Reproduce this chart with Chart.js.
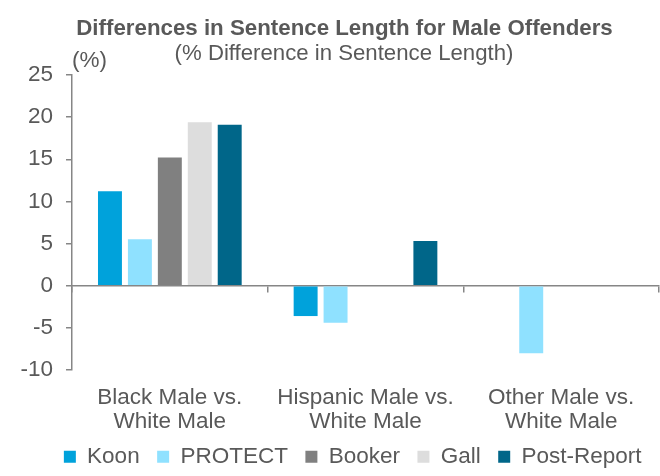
<!DOCTYPE html>
<html>
<head>
<meta charset="utf-8">
<script src="https://cdn.jsdelivr.net/npm/chart.js@4.4.1/dist/chart.umd.min.js"></script>
<style>
html,body{margin:0;padding:0;background:#fff;}
#wrap{width:660px;height:476px;position:relative;}
</style>
</head>
<body>
<div id="wrap"><canvas id="c" width="660" height="476"></canvas></div>
<script>
const categories = [['Black Male vs.', 'White Male'], ['Hispanic Male vs.', 'White Male'], ['Other Male vs.', 'White Male']];
const seriesNames = ['Koon', 'PROTECT', 'Booker', 'Gall', 'Post-Report'];
const koon = [11.2, -3.6, null];
const protect = [5.5, -4.4, -8.0];
const booker = [15.2, null, null];
const gall = [19.4, null, null];
const postReport = [19.1, 5.3, null];
const yMin = -10, yMax = 25, yStep = 5;
const titleText = 'Differences in Sentence Length for Male Offenders';
const subtitleText = '(% Difference in Sentence Length)';
const unitText = '(%)';

const colors = ['#00A2DB', '#8FE1FF', '#808080', '#DDDDDD', '#006689'];
const values = [koon, protect, booker, gall, postReport];
const FONT = "'Liberation Sans', Arial, sans-serif";
const TXT = '#595959';
const AX = '#868686';
const FS = 22.5;

const titlePlugin = {
  id: 'titles',
  afterDraw(chart) {
    const ctx = chart.ctx;
    ctx.save();
    ctx.fillStyle = TXT;
    ctx.textAlign = 'center';
    ctx.textBaseline = 'alphabetic';
    ctx.font = 'bold 22.3px ' + FONT;
    ctx.fillText(titleText, 344.5, 35);
    ctx.font = '22.2px ' + FONT;
    ctx.fillText(subtitleText, 344, 60);
    ctx.textAlign = 'left';
    ctx.font = FS + 'px ' + FONT;
    ctx.fillText(unitText, 72, 67);
    ctx.restore();
  }
};

new Chart(document.getElementById('c'), {
  type: 'bar',
  data: {
    labels: categories,
    datasets: seriesNames.map((n, i) => ({
      label: n,
      data: values[i],
      backgroundColor: colors[i],
      borderWidth: 0,
      categoryPercentage: 0.765,
      barPercentage: 0.8
    }))
  },
  options: {
    responsive: false,
    animation: false,
    layout: { padding: { top: 75, right: 1, left: 0, bottom: -2 } },
    plugins: {
      title: { display: false },
      tooltip: { enabled: false },
      legend: {
        position: 'bottom',
        align: 'end',
        labels: {
          boxWidth: 12, boxHeight: 12, padding: 17.5,
          color: TXT,
          font: { family: FONT, size: FS }
        }
      }
    },
    scales: {
      x: {
        type: 'category',
        position: { y: 0 },
        offset: true,
        border: { display: true, color: AX, width: 1.5 },
        grid: { display: true, offset: true, drawOnChartArea: false, drawTicks: true, tickLength: 6, color: AX, lineWidth: 1.5 },
        ticks: { display: false }
      },
      x2: {
        type: 'category',
        position: 'bottom',
        offset: true,
        border: { display: false },
        grid: { display: false, offset: true },
        ticks: { color: TXT, font: { family: FONT, size: FS, lineHeight: 1.07 }, padding: 8, maxRotation: 0, autoSkip: false },
        afterFit(s) { s.height = 58; }
      },
      y: {
        min: yMin, max: yMax,
        border: { display: true, color: AX, width: 1.5 },
        grid: { display: true, drawOnChartArea: false, drawTicks: true, tickLength: 6, color: AX, lineWidth: 1.5 },
        ticks: { stepSize: yStep, color: TXT, font: { family: FONT, size: FS }, padding: 13 },
        afterFit(s) { s.width = 72; }
      }
    }
  },
  plugins: [titlePlugin]
});
</script>
</body>
</html>
